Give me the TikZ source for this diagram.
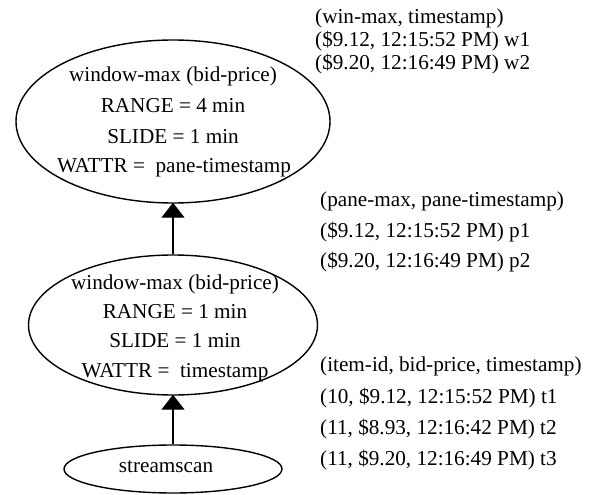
\documentclass[tikz,border=0pt]{standalone}
\usepackage{fontspec}
\setmainfont{Liberation Serif}
\usetikzlibrary{shapes.geometric,arrows.meta}
\tikzset{
  opnode/.style={draw, ellipse, line width=1.4pt, inner sep=0pt},
  intext/.style={anchor=base, inner sep=0pt, font=\fontsize{21.2}{25}\selectfont},
  sidetext/.style={anchor=base west, inner sep=0pt, font=\fontsize{21.2}{25}\selectfont},
  flow/.style={line width=1.2pt, -{Triangle[width=23pt,length=15pt]}, shorten >=-1pt}
}
\begin{document}
\begin{tikzpicture}[x=1pt,y=-1pt]
\useasboundingbox (0,0) rectangle (590,495);
% ellipses
\node[opnode, minimum width=314pt, minimum height=163pt] (top) at (173,121.5) {};
\node[opnode, minimum width=289pt, minimum height=140pt] (mid) at (173,325) {};
\node[opnode, minimum width=218pt, minimum height=48pt] (scan) at (173,469) {};
% texts in top ellipse
\node[intext] (t1) at (173,82) {window-max (bid-price)};
\node[intext] (t2) at (173,113) {RANGE = 4 min};
\node[intext] (t3) at (173,143) {SLIDE = 1 min};
\node[intext] (t4) at (174,172) {WATTR =\ \ pane-timestamp};
% texts in middle ellipse
\node[intext] (m1) at (175,289) {window-max (bid-price)};
\node[intext] (m2) at (175,318) {RANGE = 1 min};
\node[intext] (m3) at (175,347) {SLIDE = 1 min};
\node[intext] (m4) at (175,377) {WATTR =\ \ timestamp};
% streamscan
\node[intext] (s1) at (166,472) {streamscan};
% arrows
\draw[flow] (mid.north) -- (top.south);
\draw[flow] (scan.north) -- (mid.south);
% side texts
\node[sidetext] (w0) at (315,24) {(win-max, timestamp)};
\node[sidetext] (w1) at (315,47) {(\$9.12, 12:15:52 PM) w1};
\node[sidetext] (w2) at (315,70) {(\$9.20, 12:16:49 PM) w2};
\node[sidetext] (p0) at (320,206) {(pane-max, pane-timestamp)};
\node[sidetext] (p1) at (320,237) {(\$9.12, 12:15:52 PM) p1};
\node[sidetext] (p2) at (320,267) {(\$9.20, 12:16:49 PM) p2};
\node[sidetext] (r0) at (320,371) {(item-id, bid-price, timestamp)};
\node[sidetext] (r1) at (320,403) {(10, \$9.12, 12:15:52 PM) t1};
\node[sidetext] (r2) at (320,434) {(11, \$8.93, 12:16:42 PM) t2};
\node[sidetext] (r3) at (320,465) {(11, \$9.20, 12:16:49 PM) t3};
\end{tikzpicture}
\end{document}
